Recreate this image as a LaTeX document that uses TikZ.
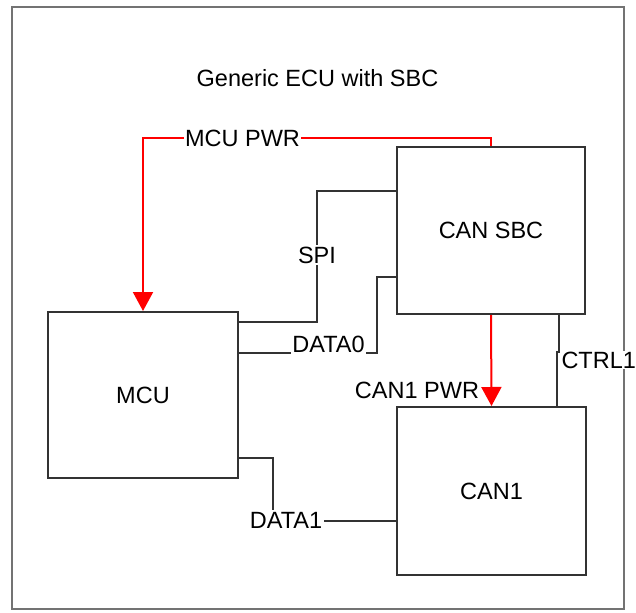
\documentclass[tikz,border=0pt]{standalone}
\usepackage{fontspec}
\setmainfont{Liberation Sans}
\usetikzlibrary{arrows.meta}
\begin{document}
\begin{tikzpicture}[x=1pt, y=-1pt, line width=2pt,
  font=\fontsize{23.5}{28}\selectfont,
  box/.style={draw=black!80, inner sep=0pt},
  wire/.style={draw=black!80},
  pwr/.style={draw=red, -{Triangle[width=20pt,length=19pt]}},
  tag/.style={fill=white, inner sep=1.5pt}]
  \useasboundingbox (0,0) rectangle (636,612);
  \draw[black!55, line width=2.8pt] (12,7) rectangle (624,609);
  \node (title) at (317.5,78) {Generic ECU with SBC};
  \node[box, minimum width=190pt, minimum height=166pt] (mcu) at (143,395) {MCU};
  \node[box, minimum width=188pt, minimum height=167pt] (sbc) at (491,230.5) {CAN SBC};
  \node[box, minimum width=189pt, minimum height=168pt] (can1) at (491.5,491) {CAN1};
  % buses between the blocks
  \coordinate (pwrbus) at (143,138);
  \draw[pwr] (sbc.north) |- (pwrbus) -- (mcu.north);
  \draw[pwr] (sbc.south) -- (can1.north);
  \draw[wire] (sbc.west |- 0,191) -| (317,322) -- (mcu.east |- 0,322);
  \draw[wire] (sbc.west |- 0,277) -| (377,353) -- (mcu.east |- 0,353);
  \draw[wire] (mcu.east |- 0,458) -| (273,521) -- (can1.west |- 0,521);
  \draw[wire] (sbc.south -| 559,0) -- (559,352) -- (557,352) -- (can1.north -| 557,0);
  \node[tag] (mcupwr) at (242.5,138) {MCU PWR};
  \node[tag] (spi) at (317,255) {SPI};
  \node[tag] (data0) at (328.5,344) {DATA0};
  \node[tag] (data1) at (286,520) {DATA1};
  \node[tag] (can1pwr) at (417,390) {CAN1 PWR};
  \node[tag, inner sep=1pt, anchor=west] (ctrl1) at (559.5,360) {CTRL1};
\end{tikzpicture}
\end{document}
